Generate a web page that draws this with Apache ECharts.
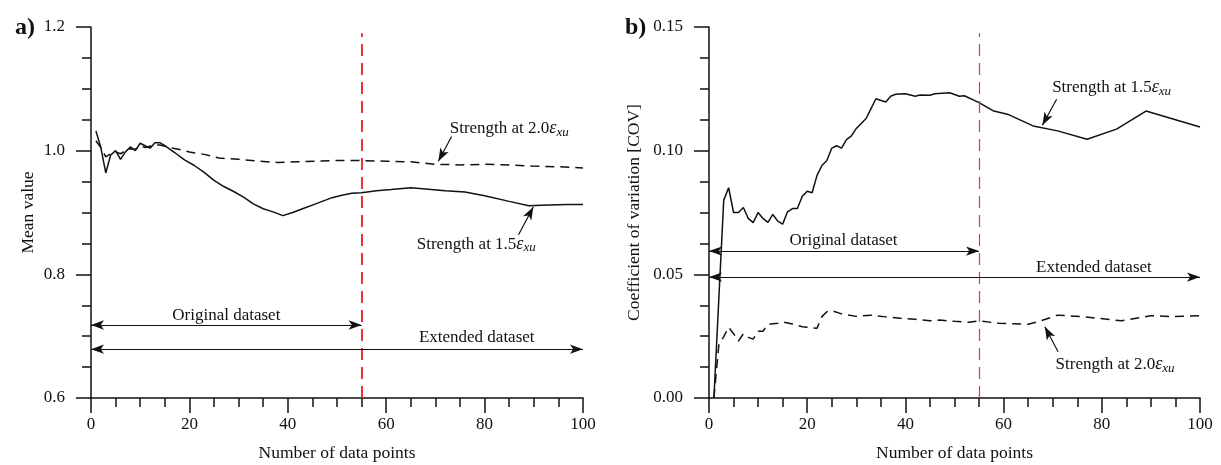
<!DOCTYPE html>
<html>
<head>
<meta charset="utf-8">
<title>Mean value and COV vs number of data points</title>
<script src="https://cdn.jsdelivr.net/npm/echarts@6/dist/echarts.min.js"></script>
<style>
  html, body { margin: 0; padding: 0; background: #fff; }
  #chart { width: 1221px; height: 465px; }
</style>
</head>
<body>
<div id="chart"></div>
<script>
// a) mean value, strength at 1.5 exu (solid)
const meanN15 = [1, 2, 3, 4, 5, 6, 7, 8, 9, 10, 11, 12, 13, 14, 15, 17, 19, 21, 23, 25, 27, 29, 31, 33, 35, 37, 39, 41, 43, 45, 47, 49, 51, 53, 55, 58, 61, 65, 68, 72, 76, 80, 85, 89, 93, 97, 100]
const meanV15 = [1.032, 1.005, 0.964, 0.993, 1.0, 0.986, 0.998, 1.006, 1.0, 1.012, 1.008, 1.004, 1.013, 1.013, 1.008, 0.997, 0.985, 0.976, 0.965, 0.952, 0.942, 0.934, 0.925, 0.914, 0.906, 0.901, 0.895, 0.9, 0.906, 0.912, 0.918, 0.924, 0.928, 0.931, 0.932, 0.935, 0.937, 0.94, 0.938, 0.935, 0.933, 0.927, 0.918, 0.911, 0.912, 0.913, 0.913]
// a) mean value, strength at 2.0 exu (dashed)
const meanN20 = [1, 2, 3, 4, 5, 6, 7, 8, 9, 10, 11, 12, 13, 14, 16, 18, 20, 23, 26, 30, 34, 38, 42, 46, 50, 55, 60, 65, 70, 75, 80, 85, 90, 95, 100]
const meanV20 = [1.016, 1.005, 0.99, 0.995, 0.998, 0.995, 1.0, 1.003, 1.002, 1.008, 1.005, 1.007, 1.009, 1.009, 1.005, 1.002, 0.998, 0.994, 0.988, 0.986, 0.983, 0.981, 0.982, 0.983, 0.984, 0.984, 0.983, 0.982, 0.978, 0.977, 0.978, 0.977, 0.975, 0.974, 0.972]

// b) COV, strength at 1.5 exu (solid)
const covN15 = [1, 3, 4, 5, 6, 7, 8, 9, 10, 11, 12, 13, 14, 15, 16, 17, 18, 19, 20, 21, 22, 23, 24, 25, 26, 27, 28, 29, 30, 32, 33, 34, 36, 37, 38, 40, 42, 43, 45, 46, 49, 51, 52, 55, 58, 61, 66, 71, 77, 83, 89, 100]
const covV15 = [0, 0.08, 0.085, 0.075, 0.075, 0.077, 0.0726, 0.0709, 0.075, 0.0726, 0.071, 0.0742, 0.0715, 0.0703, 0.0753, 0.0766, 0.0766, 0.0816, 0.0836, 0.083, 0.09, 0.094, 0.096, 0.101, 0.102, 0.101, 0.1045, 0.106, 0.109, 0.113, 0.117, 0.121, 0.1197, 0.122, 0.1228, 0.123, 0.122, 0.1225, 0.1224, 0.123, 0.1234, 0.122, 0.1222, 0.1194, 0.116, 0.1146, 0.11, 0.108, 0.1046, 0.1087, 0.116, 0.1096]
// b) COV, strength at 2.0 exu (dashed)
const covN20 = [1, 2, 3, 4, 5, 6, 7, 8, 9, 10, 11, 12, 13, 14, 15, 17, 19, 22, 23, 24, 25, 27, 30, 33, 36, 39, 42, 45, 47, 50, 53, 55, 59, 65, 67, 71, 76, 84, 90, 94, 100]
const covV20 = [0, 0.0214, 0.0248, 0.0286, 0.026, 0.023, 0.026, 0.0245, 0.0238, 0.027, 0.027, 0.0298, 0.03, 0.0302, 0.0308, 0.0299, 0.0288, 0.0282, 0.0329, 0.0349, 0.0353, 0.034, 0.033, 0.0335, 0.0328, 0.0322, 0.0318, 0.0312, 0.0315, 0.031, 0.0306, 0.0312, 0.0302, 0.0298, 0.0308, 0.0335, 0.0329, 0.0312, 0.0333, 0.0329, 0.0333]

const originalEnd = 55   // size of the original dataset
const extendedEnd = 100

const zip = (xs, ys) => xs.map((x, i) => [x, ys[i]])

const serif = 'Liberation Serif'
const black = '#111'
const red = '#e8343b'

const richStrength = {
  n: { fontFamily: serif, fontSize: 17, color: black },
  e: { fontFamily: serif, fontSize: 18, fontStyle: 'italic', color: black },
  s: { fontFamily: serif, fontSize: 13, fontStyle: 'italic', color: black, padding: [8, 0, 0, 0] }
}
const strengthText = (k) => '{n|Strength at ' + k + '}{e|ε}{s|xu}'

// plain text label placed at a data coordinate
function textPoint(coord, text, rich) {
  return {
    coord: coord,
    symbol: 'circle',
    symbolSize: 0,
    label: {
      show: true,
      position: 'inside',
      formatter: text,
      fontFamily: serif,
      fontSize: 17,
      color: black,
      rich: rich
    }
  }
}

// arrow between two data coordinates
function arrow(from, to, both) {
  return [
    { coord: from, symbol: both ? 'arrow' : 'none', symbolSize: [7, 13] },
    { coord: to, symbol: 'arrow', symbolSize: [7, 13] }
  ]
}

function xAxisOpt(gridIndex) {
  return {
    gridIndex: gridIndex,
    type: 'value',
    min: 0,
    max: 100,
    interval: 20,
    name: 'Number of data points',
    nameLocation: 'middle',
    nameGap: 46,
    nameTextStyle: { fontFamily: serif, fontSize: 17.5, color: black },
    axisLine: { onZero: false, lineStyle: { color: black, width: 1.5 } },
    axisTick: { length: 15, lineStyle: { color: black, width: 1.5 } },
    minorTick: { show: true, splitNumber: 4, length: 9, lineStyle: { color: black, width: 1.5 } },
    axisLabel: { margin: 18, fontFamily: serif, fontSize: 17, color: black },
    splitLine: { show: false },
    minorSplitLine: { show: false }
  }
}

function yAxisOpt(gridIndex, min, max, interval, digits, name, nameGap) {
  return {
    gridIndex: gridIndex,
    type: 'value',
    min: min,
    max: max,
    interval: interval,
    name: name,
    nameLocation: 'middle',
    nameGap: nameGap,
    nameTextStyle: { fontFamily: serif, fontSize: 17.5, color: black },
    axisLine: { show: true, onZero: false, lineStyle: { color: black, width: 1.5 } },
    axisTick: { show: true, length: 15, lineStyle: { color: black, width: 1.5 } },
    minorTick: { show: true, splitNumber: 4, length: 9, lineStyle: { color: black, width: 1.5 } },
    axisLabel: {
      margin: 26,
      fontFamily: serif,
      fontSize: 17,
      color: black,
      formatter: (v) => v.toFixed(digits)
    },
    splitLine: { show: false },
    minorSplitLine: { show: false }
  }
}

const chart = echarts.init(document.getElementById('chart'))

const option = {
  animation: false,
  backgroundColor: '#fff',
  title: [
    { text: 'a)', left: 10, top: 11, textStyle: { fontFamily: serif, fontSize: 24, fontWeight: 'bold', color: black } },
    { text: 'b)', left: 620, top: 11, textStyle: { fontFamily: serif, fontSize: 24, fontWeight: 'bold', color: black } }
  ],
  grid: [
    { left: 91, top: 27, width: 492, height: 371, outerBoundsMode: 'none' },
    { left: 709, top: 27, width: 491, height: 371, outerBoundsMode: 'none' }
  ],
  xAxis: [xAxisOpt(0), xAxisOpt(1)],
  yAxis: [
    yAxisOpt(0, 0.6, 1.2, 0.2, 1, 'Mean value', 54),
    yAxisOpt(1, 0, 0.15, 0.05, 2, 'Coefficient of variation [COV]', 66)
  ],
  series: [
    {
      name: 'Mean 1.5',
      type: 'line',
      xAxisIndex: 0,
      yAxisIndex: 0,
      data: zip(meanN15, meanV15),
      showSymbol: false,
      lineStyle: { color: black, width: 1.5 },
      z: 3,
      markLine: {
        silent: true,
        symbol: 'none',
        label: { show: false },
        lineStyle: { color: black, width: 1.2, type: 'solid' },
        data: [
          // dividing line between the two datasets
          [{ coord: [originalEnd, 0.6], symbol: 'none', lineStyle: { color: red, width: 2, type: [12, 7] } },
           { coord: [originalEnd, 1.19], symbol: 'none' }],
          arrow([0, 0.718], [originalEnd, 0.718], true),
          arrow([0, 0.679], [extendedEnd, 0.679], true),
          arrow([73.3, 1.023], [70.6, 0.983], false),
          arrow([86.9, 0.864], [89.9, 0.909], false)
        ]
      },
      markPoint: {
        silent: true,
        data: [
          textPoint([27.5, 0.734], 'Original dataset'),
          textPoint([78.4, 0.697], 'Extended dataset'),
          textPoint([85, 1.036], strengthText('2.0'), richStrength),
          textPoint([78.3, 0.849], strengthText('1.5'), richStrength)
        ]
      }
    },
    {
      name: 'Mean 2.0',
      type: 'line',
      xAxisIndex: 0,
      yAxisIndex: 0,
      data: zip(meanN20, meanV20),
      showSymbol: false,
      lineStyle: { color: black, width: 1.5, type: [9, 6] }
    },
    {
      name: 'COV 1.5',
      type: 'line',
      xAxisIndex: 1,
      yAxisIndex: 1,
      data: zip(covN15, covV15),
      showSymbol: false,
      lineStyle: { color: black, width: 1.5 },
      z: 3,
      markLine: {
        silent: true,
        symbol: 'none',
        label: { show: false },
        lineStyle: { color: black, width: 1.2, type: 'solid' },
        data: [
          [{ coord: [originalEnd, 0], symbol: 'none', lineStyle: { color: red, width: 1.2, type: [12, 7] } },
           { coord: [originalEnd, 0.1475], symbol: 'none' }],
          arrow([0, 0.0594], [originalEnd, 0.0594], true),
          arrow([0, 0.0489], [extendedEnd, 0.0489], true),
          arrow([70.8, 0.1208], [67.9, 0.1103], false),
          arrow([71.1, 0.0187], [68.4, 0.0288], false)
        ]
      },
      markPoint: {
        silent: true,
        data: [
          textPoint([27.4, 0.0638], 'Original dataset'),
          textPoint([78.4, 0.0529], 'Extended dataset'),
          textPoint([82, 0.1255], strengthText('1.5'), richStrength),
          textPoint([82.7, 0.0135], strengthText('2.0'), richStrength)
        ]
      }
    },
    {
      name: 'COV 2.0',
      type: 'line',
      xAxisIndex: 1,
      yAxisIndex: 1,
      data: zip(covN20, covV20),
      showSymbol: false,
      lineStyle: { color: black, width: 1.5, type: [9, 6] }
    }
  ]
}

chart.setOption(option)
</script>
</body>
</html>
